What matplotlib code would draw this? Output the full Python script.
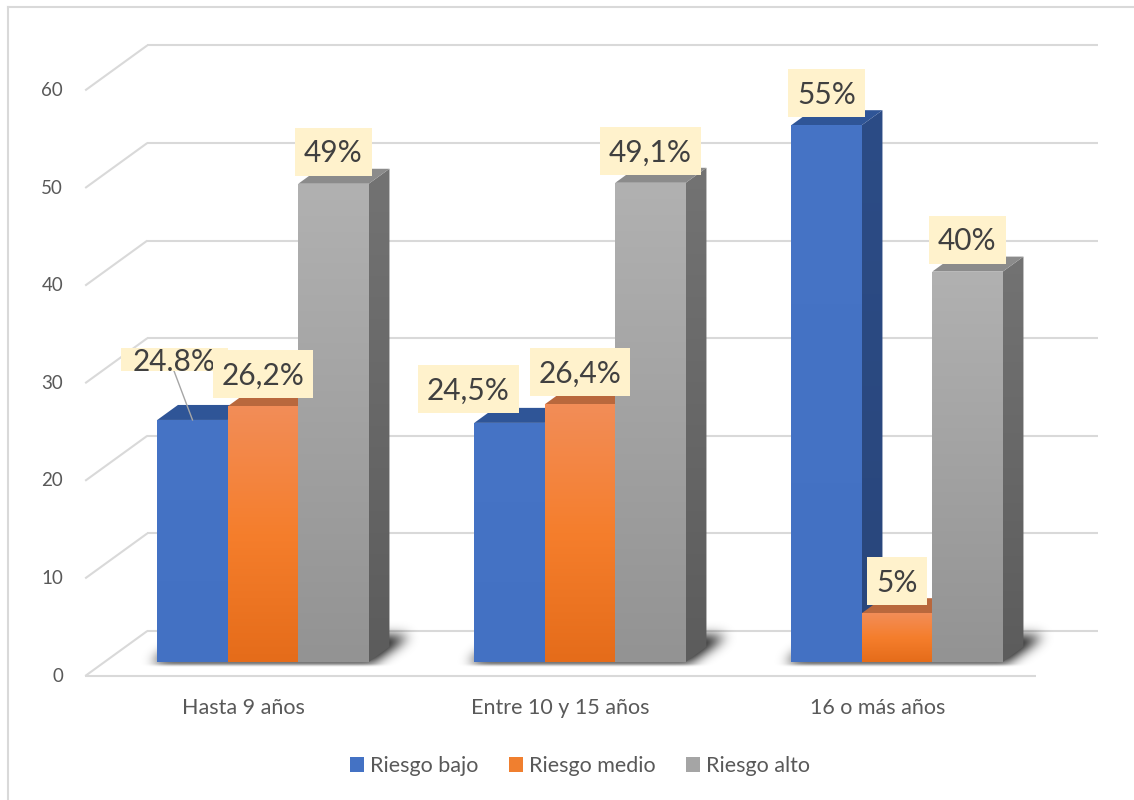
import numpy as np
import matplotlib
matplotlib.use("Agg")
import matplotlib.pyplot as plt
from matplotlib.patches import Polygon, Rectangle, Patch
from matplotlib.path import Path
from matplotlib.lines import Line2D
from matplotlib.transforms import offset_copy
from matplotlib.colors import to_rgb

# ---------------- data ----------------
categories = ["Hasta 9 años", "Entre 10 y 15 años", "16 o más años"]
series_names = ["Riesgo bajo", "Riesgo medio", "Riesgo alto"]
riesgo_bajo = [24.8, 24.5, 55.0]
riesgo_medio = [26.2, 26.4, 5.0]
riesgo_alto = [49.0, 49.1, 40.0]
labels_bajo = ["24.8%", "24,5%", "55%"]
labels_medio = ["26,2%", "26,4%", "5%"]
labels_alto = ["49%", "49,1%", "40%"]
y_ticks = [0, 10, 20, 30, 40, 50, 60]

values = [riesgo_bajo, riesgo_medio, riesgo_alto]
labels = [labels_bajo, labels_medio, labels_alto]

plt.rcParams['font.family'] = ['Lato', 'DejaVu Sans']

W, H = 1134, 800
fig = plt.figure(figsize=(W / 100, H / 100), dpi=100)
ax = fig.add_axes([0, 0, 1, 1])
ax.axis('off')

# scale of the bar front plane: pixels per category step / per percentage point
SX = 317.0
SY = 9.76
X0_PX = 263.0   # centre of the first category, from the left edge
Y0_PX = 662.0   # zero level of the bar front plane, from the top edge
XLIM = (-X0_PX / SX, (W - X0_PX) / SX)
YLIM = (-(H - Y0_PX) / SY, Y0_PX / SY)
ax.set_xlim(*XLIM)
ax.set_ylim(*YLIM)

K = 1.38  # horizontal shift per pixel of depth (oblique projection)


def depth(d):
    """data offset for a move of d pixels into the depth of the scene"""
    return d * K / SX, d / SY


BW = 70.5 / SX
BAR_DEPTH = 15
FLOOR_FRONT = -14
BACK_WALL = 31
n = len(categories)

TXT = '#595959'
GRID = '#D9D9D9'
TICK_FS = 13.5
CAT_FS = 15.5

# ---------------- walls and gridlines ----------------
fx, fy = depth(FLOOR_FRONT)
bx, by = depth(BACK_WALL)
x_left, x_right = -0.5, n - 0.5
for v in y_ticks:
    ax.plot([x_left + bx, x_right + bx], [v + by, v + by], color=GRID, lw=1.5,
            zorder=1, solid_capstyle='butt')
    ax.plot([x_left + fx, x_left + bx], [v + fy, v + by], color=GRID, lw=1.5,
            zorder=1, solid_capstyle='butt')
ax.plot([x_left + fx, x_right + fx], [fy, fy], color=GRID, lw=1.5, zorder=1,
        solid_capstyle='butt')

tick_tr = offset_copy(ax.transData, fig=fig, x=-22, y=0, units='dots')
for v in y_ticks:
    ax.text(x_left + fx, v + fy, str(v), transform=tick_tr, ha='right',
            va='center', fontsize=TICK_FS, color=TXT)

cat_tr = offset_copy(ax.transData, fig=fig, x=0, y=-32, units='dots')
for i, c in enumerate(categories):
    ax.text(i + fx, fy, c, transform=cat_tr, ha='center', va='center',
            fontsize=CAT_FS, color=TXT)

# ---------------- soft floor shadow under each group ----------------
def to_pixels(pts):
    d = ax.transData.transform(np.asarray(pts))
    return np.column_stack([d[:, 0], H - d[:, 1]])


r0, r1 = 560, 720
yy, xx = np.mgrid[r0:r1, 0:W] + 0.5
pts = np.column_stack([xx.ravel(), yy.ravel()])
mask = np.zeros(len(pts))
e = 5 / SX
dfx, dfy = depth(-1)
dbx, dby = depth(26)
for i in range(n):
    xl = i - 1.5 * BW
    xr = i + 1.5 * BW
    poly = [(xl - e + dfx, dfy), (xr + e + dfx, dfy),
            (xr + e + dbx, dby), (xl - e + dbx, dby)]
    mask = np.maximum(mask, Path(to_pixels(poly)).contains_points(pts))
mask = mask.reshape(yy.shape).astype(float)


def blur(a, s):
    r = int(3 * s)
    k = np.exp(-0.5 * (np.arange(-r, r + 1) / s) ** 2)
    k /= k.sum()
    a = np.apply_along_axis(lambda m: np.convolve(m, k, 'same'), 1, a)
    a = np.apply_along_axis(lambda m: np.convolve(m, k, 'same'), 0, a)
    return a


alpha_band = blur(mask, 6.0)
fade = np.clip(1 - (yy - 664) / 3.0, 0, 1)
alpha_band *= fade
shadow = np.zeros((H, W, 4))
shadow[r0:r1, :, 3] = np.clip(alpha_band * 1.0, 0, 0.9)
ax.imshow(shadow, extent=(XLIM[0], XLIM[1], YLIM[0], YLIM[1]), origin='upper',
          zorder=2, interpolation='nearest', aspect='auto')

# ---------------- 3D bars ----------------
front_stops = [['#4674C6', '#4371C3'],
               ['#F28D58', '#F57E2C', '#E56C1A'],
               ['#B1B1B1', '#939393']]
top_colors = ['#2F5597', '#B9683D', '#8B8B8B']
side_stops = [['#2C4C86', '#29467B'],
              ['#B5602F', '#A85520'],
              ['#737373', '#5C5C5C']]
legend_colors = ['#4472C4', '#F07F2F', '#A5A5A5']


def gradient_image(stops, n_rows=256):
    cols = np.array([to_rgb(c) for c in stops])
    t = np.linspace(0, 1, n_rows)
    pos = np.linspace(0, 1, len(stops))
    img = np.column_stack([np.interp(t, pos, cols[:, k]) for k in range(3)])
    return img.reshape(n_rows, 1, 3)


def draw_face(poly, stops, z):
    patch = Polygon(poly, closed=True, facecolor='none', edgecolor='none',
                    zorder=z)
    ax.add_patch(patch)
    xs, ys = zip(*poly)
    im = ax.imshow(gradient_image(stops),
                   extent=(min(xs), max(xs), min(ys), max(ys)),
                   origin='upper', aspect='auto', interpolation='bilinear',
                   zorder=z)
    im.set_clip_path(patch)


ddx, ddy = depth(BAR_DEPTH)
bar_tops = {}
for j in range(3):
    xpos = [i + (j - 1) * BW for i in range(n)]
    zb = 3 + 3 * j
    bars = ax.bar(xpos, values[j], width=BW, color=legend_colors[j],
                  linewidth=0, zorder=zb + 2)
    for i, b in enumerate(bars):
        xl = b.get_x()
        xr = xl + b.get_width()
        v = b.get_height()
        side = [(xr, 0), (xr + ddx, ddy), (xr + ddx, v + ddy), (xr, v)]
        draw_face(side, side_stops[j], zb)
        top = Polygon([(xl, v), (xr, v), (xr + ddx, v + ddy), (xl + ddx, v + ddy)],
                      closed=True, facecolor=top_colors[j], edgecolor='none',
                      zorder=zb + 1)
        ax.add_patch(top)
        draw_face([(xl, 0), (xr, 0), (xr, v), (xl, v)], front_stops[j], zb + 2.1)
        bar_tops[(j, i)] = (xl + b.get_width() / 2, v)

ax.set_xlim(*XLIM)
ax.set_ylim(*YLIM)

# ---------------- data labels ----------------
LFS = 21.5
cap_px = 0.7165 * LFS * 100 / 72
BOX_H = 48
PADX = 9
label_offsets = {(0, 1): (-41, 34)}   # pixel shifts (x, up) of the label centre
LEAD = (0, 0)                         # label drawn with a leader line

fig.canvas.draw()
renderer = fig.canvas.get_renderer()

for j in range(3):
    for i in range(n):
        xc, v = bar_tops[(j, i)]
        if (j, i) == LEAD:
            dx, dy = -18.5, 60
            box_h, padx, zbox = 23, 12, 20
        else:
            dx, dy = label_offsets.get((j, i), (0, 32))
            box_h, padx, zbox = BOX_H, PADX, 22
        tr = offset_copy(ax.transData, fig=fig, x=dx, y=dy - cap_px / 2,
                         units='dots')
        t = ax.text(xc, v, labels[j][i], transform=tr, ha='center',
                    va='baseline', fontsize=LFS, color='#404040',
                    zorder=zbox + 1)
        tw = t.get_window_extent(renderer).width
        cx = xc + dx / SX
        cy = v + dy / SY
        bw = (tw + 2 * padx) / SX
        bh = box_h / SY
        ax.add_patch(Rectangle((cx - bw / 2, cy - bh / 2), bw, bh,
                               facecolor='#FFF2CC', edgecolor='none',
                               zorder=zbox))
        if (j, i) == LEAD:
            ax.plot([xc - 18.5 / SX, xc], [v + 49 / SY, v], color='#A6A6A6',
                    lw=1.0, zorder=19)

# ---------------- legend ----------------
handles = [Patch(facecolor=c, edgecolor='none') for c in legend_colors]
fig.legend(handles, series_names, loc='center',
           bbox_to_anchor=(580 / W, 1 - 766 / H), ncol=3, frameon=False,
           fontsize=CAT_FS, handlelength=0.65, handleheight=0.65,
           handletextpad=0.28, columnspacing=1.4, labelcolor=TXT)

# ---------------- chart border ----------------
fig.add_artist(Line2D([8 / W, 8 / W], [0, 1 - 7 / H], transform=fig.transFigure,
                      color=GRID, lw=1.5))
fig.add_artist(Line2D([8 / W, 1], [1 - 7 / H, 1 - 7 / H],
                      transform=fig.transFigure, color=GRID, lw=1.5))

fig.savefig('out.png', dpi=100)
